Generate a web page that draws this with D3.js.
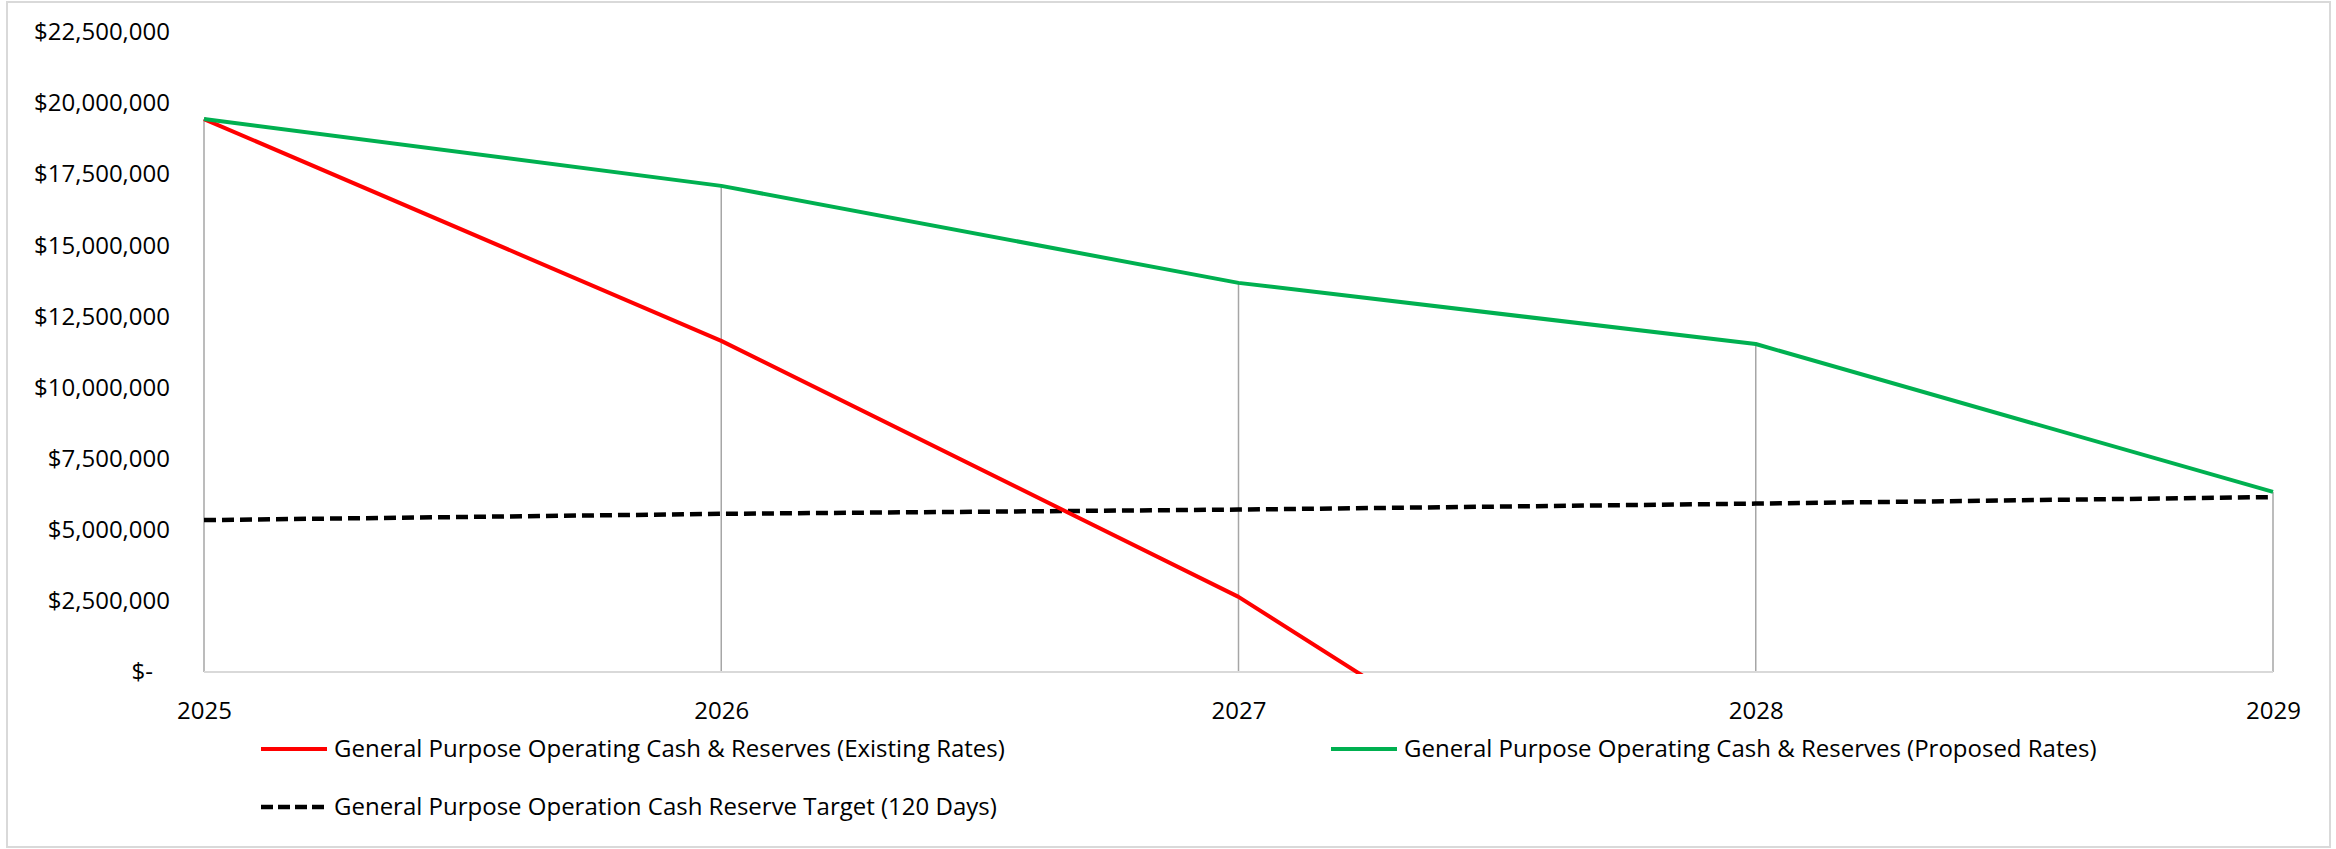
<!DOCTYPE html>
<html>
<head>
<meta charset="utf-8">
<script src="https://cdn.jsdelivr.net/npm/d3@7"></script>
<style>
  body { margin: 0; background: #fff; }
  svg { display: block; font-family: 'Open Sans', 'Noto Sans', sans-serif; }
</style>
</head>
<body>
<div id="chart"></div>
<script>
// chart data
var years = [2025, 2026, 2027, 2028, 2029];
var existingRates = [19440000, 11640000, 2640000, -8900000, -20000000];
var proposedRates = [19440000, 17090000, 13680000, 11530000, 6330000];
var reserveTarget = [5340000, 5560000, 5710000, 5920000, 6150000];
var yTicks = [0, 2500000, 5000000, 7500000, 10000000, 12500000, 15000000, 17500000, 20000000, 22500000];
var seriesNames = [
    'General Purpose Operating Cash & Reserves (Existing Rates)',
    'General Purpose Operating Cash & Reserves (Proposed Rates)',
    'General Purpose Operation Cash Reserve Target (120 Days)'
];

var W = 2336, H = 849;
var margin = {top: 32, right: 63, bottom: 177, left: 204};
var fontSize = 24;

var svg = d3.select('#chart').append('svg')
    .attr('width', W)
    .attr('height', H);

// outer frame
svg.append('rect')
    .attr('x', 7).attr('y', 2)
    .attr('width', 2323).attr('height', 845)
    .attr('fill', '#fff')
    .attr('stroke', '#d9d9d9')
    .attr('stroke-width', 2);

var x = d3.scaleLinear()
    .domain([years[0], years[years.length - 1]])
    .range([margin.left, W - margin.right]);

var y = d3.scaleLinear()
    .domain([0, 22500000])
    .range([H - margin.bottom, margin.top]);

var fmt = d3.format(',');

// y axis labels
var yAxis = svg.append('g')
    .attr('transform', 'translate(' + margin.left + ',0)')
    .call(d3.axisLeft(y)
        .tickValues(yTicks)
        .tickSize(0)
        .tickPadding(34)
        .tickFormat(d => d === 0 ? '$-' : '$' + fmt(d)));
yAxis.select('.domain').remove();
yAxis.selectAll('text')
    .attr('font-size', fontSize)
    .attr('font-family', "'Open Sans', sans-serif")
    .attr('fill', '#000')
    .attr('dx', d => d === 0 ? -17 : 0);

// x axis labels
var xAxis = svg.append('g')
    .attr('transform', 'translate(0,' + y(0) + ')')
    .call(d3.axisBottom(x)
        .tickValues(years)
        .tickSize(0)
        .tickPadding(30)
        .tickFormat(d3.format('d')));
xAxis.select('.domain').remove();
xAxis.selectAll('text')
    .attr('font-size', fontSize)
    .attr('font-family', "'Open Sans', sans-serif")
    .attr('fill', '#000');

// drop lines
var topVals = years.map((yr, i) => d3.max([existingRates[i], proposedRates[i], reserveTarget[i]]));
svg.append('g').selectAll('line')
    .data(years)
    .enter().append('line')
    .attr('x1', d => x(d)).attr('x2', d => x(d))
    .attr('y1', (d, i) => y(topVals[i]))
    .attr('y2', y(0))
    .attr('stroke', '#a6a6a6')
    .attr('stroke-width', 1.5);

// baseline
svg.append('line')
    .attr('x1', x(years[0])).attr('x2', x(years[years.length - 1]))
    .attr('y1', y(0)).attr('y2', y(0))
    .attr('stroke', '#d9d9d9')
    .attr('stroke-width', 2);

// clip so negative values are hidden below the baseline
svg.append('clipPath').attr('id', 'plot-clip')
  .append('rect')
    .attr('x', margin.left - 10)
    .attr('y', 0)
    .attr('width', W - margin.left - margin.right + 20)
    .attr('height', y(0) + 2);

var series = [
    {name: seriesNames[0], values: existingRates, color: '#ff0000', dash: null},
    {name: seriesNames[1], values: proposedRates, color: '#00b050', dash: null},
    {name: seriesNames[2], values: reserveTarget, color: '#000000', dash: '12,6'}
];

var line = d3.line()
    .x((d, i) => x(years[i]))
    .y(d => y(d));

var plot = svg.append('g').attr('clip-path', 'url(#plot-clip)');
// draw dashed target first, then red, then green
[series[2], series[0], series[1]].forEach(s => {
    plot.append('path')
        .datum(s.values)
        .attr('fill', 'none')
        .attr('stroke', s.color)
        .attr('stroke-width', s.dash ? 4.5 : 4)
        .attr('stroke-dasharray', s.dash)
        .attr('stroke-linejoin', 'round')
        .attr('d', line);
});

// legend
var legendPos = [
    {x: 261, y: 749},
    {x: 1331, y: 749},
    {x: 261, y: 807}
];
var legend = svg.append('g').selectAll('g')
    .data(series)
    .enter().append('g')
    .attr('transform', (d, i) => 'translate(' + legendPos[i].x + ',' + legendPos[i].y + ')');

legend.append('line')
    .attr('x1', 0).attr('x2', 66)
    .attr('y1', 0).attr('y2', 0)
    .attr('stroke', d => d.color)
    .attr('stroke-width', d => d.dash ? 4.5 : 4)
    .attr('stroke-dasharray', d => d.dash ? '12,5' : null);

legend.append('text')
    .attr('x', 73)
    .attr('y', 0)
    .attr('dy', '0.35em')
    .attr('font-size', fontSize)
    .attr('fill', '#000')
    .text(d => d.name);
</script>
</body>
</html>
